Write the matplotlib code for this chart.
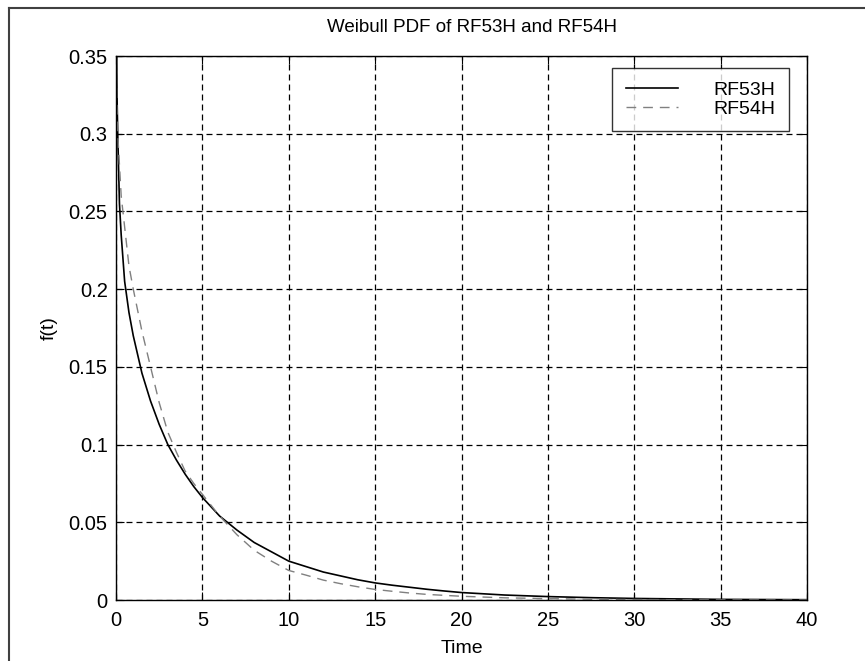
import matplotlib
matplotlib.use("Agg")
import matplotlib.pyplot as plt
from matplotlib.lines import Line2D

plt.rcParams['font.family'] = ['Liberation Sans', 'DejaVu Sans']
plt.rcParams['lines.scale_dashes'] = False

# values
time = [0.01, 0.05, 0.1, 0.2, 0.3, 0.5, 0.75, 1.0, 1.5, 2.0, 2.5, 3.0, 3.5,
        4.0, 4.5, 5.0, 5.5, 6.0, 7.0, 8.0, 9.0, 10.0, 11.0, 12.0, 13.0, 14.0,
        15.0, 16.0, 17.0, 18.0, 19.0, 20.0, 22.5, 25.0, 27.5, 30.0, 35.0, 40.0]
f_rf53h = [0.40, 0.33, 0.30, 0.255, 0.235, 0.205, 0.185, 0.170, 0.146, 0.128,
           0.113, 0.100, 0.090, 0.081, 0.073, 0.066, 0.060, 0.054, 0.045,
           0.037, 0.031, 0.025, 0.0215, 0.018, 0.0155, 0.013, 0.011, 0.0095,
           0.0082, 0.0069, 0.0058, 0.0048, 0.0032, 0.0022, 0.0015, 0.0010,
           0.0004, 0.0002]
f_rf54h = [0.34, 0.32, 0.30, 0.28, 0.26, 0.24, 0.215, 0.200, 0.173, 0.150,
           0.127, 0.108, 0.095, 0.083, 0.075, 0.068, 0.061, 0.054, 0.042,
           0.032, 0.025, 0.019, 0.016, 0.0128, 0.0105, 0.0085, 0.0068, 0.0056,
           0.0045, 0.0036, 0.0030, 0.0024, 0.0014, 0.0009, 0.0005, 0.0003,
           0.0001, 0.00005]
series_names = ['RF53H', 'RF54H']
x_ticks = [0, 5, 10, 15, 20, 25, 30, 35, 40]
y_ticks = [0, 0.05, 0.1, 0.15, 0.2, 0.25, 0.3, 0.35]
y_tick_labels = ['0', '0.05', '0.1', '0.15', '0.2', '0.25', '0.3', '0.35']

W, H = 865, 661
fig = plt.figure(figsize=(W / 100, H / 100), dpi=100)
fig.patch.set_facecolor('white')

# axes box in pixels: left 116, right 807, top 56, bottom 600
ax = fig.add_axes([116 / W, 1 - 600 / H, (807 - 116) / W, (600 - 56) / H])

ax.plot(time, f_rf53h, color='black', lw=1.2, label=series_names[0])
ax.plot(time, f_rf54h, color='0.5', lw=1.0, linestyle=(0, (7, 5)),
        label=series_names[1])

ax.set_xlim(0, 40)
ax.set_ylim(0, 0.35)
ax.set_xticks(x_ticks)
ax.set_yticks(y_ticks)
ax.set_yticklabels(y_tick_labels)
ax.tick_params(direction='in', length=6, width=0.8, top=True, right=True,
               labelsize=14.5, colors='black')
ax.tick_params(axis='x', pad=8)
ax.tick_params(axis='y', pad=6)
for sp in ax.spines.values():
    sp.set_linewidth(1.0)

ax.grid(True, color='black', linestyle=(0, (4.3, 2.9)), linewidth=0.9)

ax.set_xlabel('Time', fontsize=14, labelpad=7)
ax.set_ylabel('f(t)', fontsize=14, labelpad=8)

fig.text(472 / W, 1 - 28 / H, 'Weibull PDF of RF53H and RF54H',
         ha='center', va='center', fontsize=13.5)

leg = ax.legend(loc='upper right', bbox_to_anchor=((789 - 116) / 691, (600 - 68) / 544),
                fontsize=14, frameon=True, fancybox=False, borderaxespad=0,
                handlelength=2.7, handletextpad=1.8, labelspacing=0.05,
                borderpad=0.7)
leg.get_frame().set_edgecolor('black')
leg.get_frame().set_linewidth(1.0)

# outer scanned frame (left and top edges visible)
fig.add_artist(Line2D([9 / W, 9 / W], [0, 1 - 8 / H], color='0.25', lw=1.5))
fig.add_artist(Line2D([9 / W, 1], [1 - 8 / H, 1 - 8 / H], color='0.25', lw=1.5))

fig.savefig('out.png', dpi=100)
